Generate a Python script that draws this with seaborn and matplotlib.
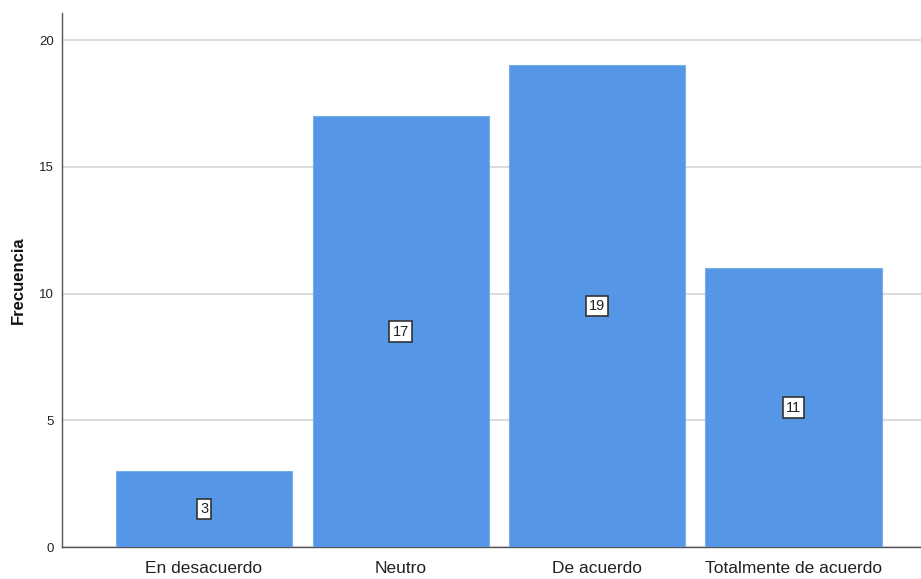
import matplotlib
matplotlib.use("Agg")
import matplotlib.pyplot as plt
import seaborn as sns
import pandas as pd
from matplotlib import font_manager

categorias = ["En desacuerdo", "Neutro", "De acuerdo", "Totalmente de acuerdo"]
frecuencias = [3, 17, 19, 11]
ticks_y = [0, 5, 10, 15, 20]

sns.set_theme(style="white")
plt.rcParams["font.family"] = ["Liberation Sans", "DejaVu Sans"]

disponibles = {f.name for f in font_manager.fontManager.ttflist}
fuente_etiqueta = ("Liberation Sans Narrow" if "Liberation Sans Narrow" in disponibles
                   else "Liberation Sans")

df = pd.DataFrame({"categoria": categorias, "frecuencia": frecuencias})

fig = plt.figure(figsize=(9.21, 5.79), dpi=100)
ax = fig.add_axes([62 / 921, 1 - 547 / 579, 1 - 62 / 921, (547 - 13) / 579])

sns.barplot(data=df, x="categoria", y="frecuencia", color="#5596e6",
            saturation=1, width=0.896, edgecolor="#7aaee8", linewidth=0.8,
            ax=ax, zorder=3)

for i, v in enumerate(frecuencias):
    ax.text(i, v / 2, str(v), ha="center", va="center", fontsize=10.5,
            family=fuente_etiqueta, color="#222222", zorder=5,
            bbox=dict(boxstyle="square,pad=0.22", facecolor="white",
                      edgecolor="#333333", linewidth=1.2))

ax.set_xlim(-0.723, 3.649)
ax.set_ylim(0, 21.07)
ax.set_yticks(ticks_y)
ax.yaxis.grid(True, color="#d6d6d6", linewidth=1.2, zorder=0)
ax.set_axisbelow(True)
ax.tick_params(axis="y", length=0, labelsize=9.5, pad=6, colors="#222222")
ax.tick_params(axis="x", length=0, labelsize=12.5, pad=10, colors="#222222")
ax.set_xlabel("")
ax.set_ylabel("Frecuencia", fontsize=12, fontweight="bold", labelpad=9,
              color="#111111")

for side in ["top", "right"]:
    ax.spines[side].set_visible(False)
for side in ["left", "bottom"]:
    ax.spines[side].set_color("#555555")
    ax.spines[side].set_linewidth(1.0)

fig.savefig("out.png", dpi=100)
